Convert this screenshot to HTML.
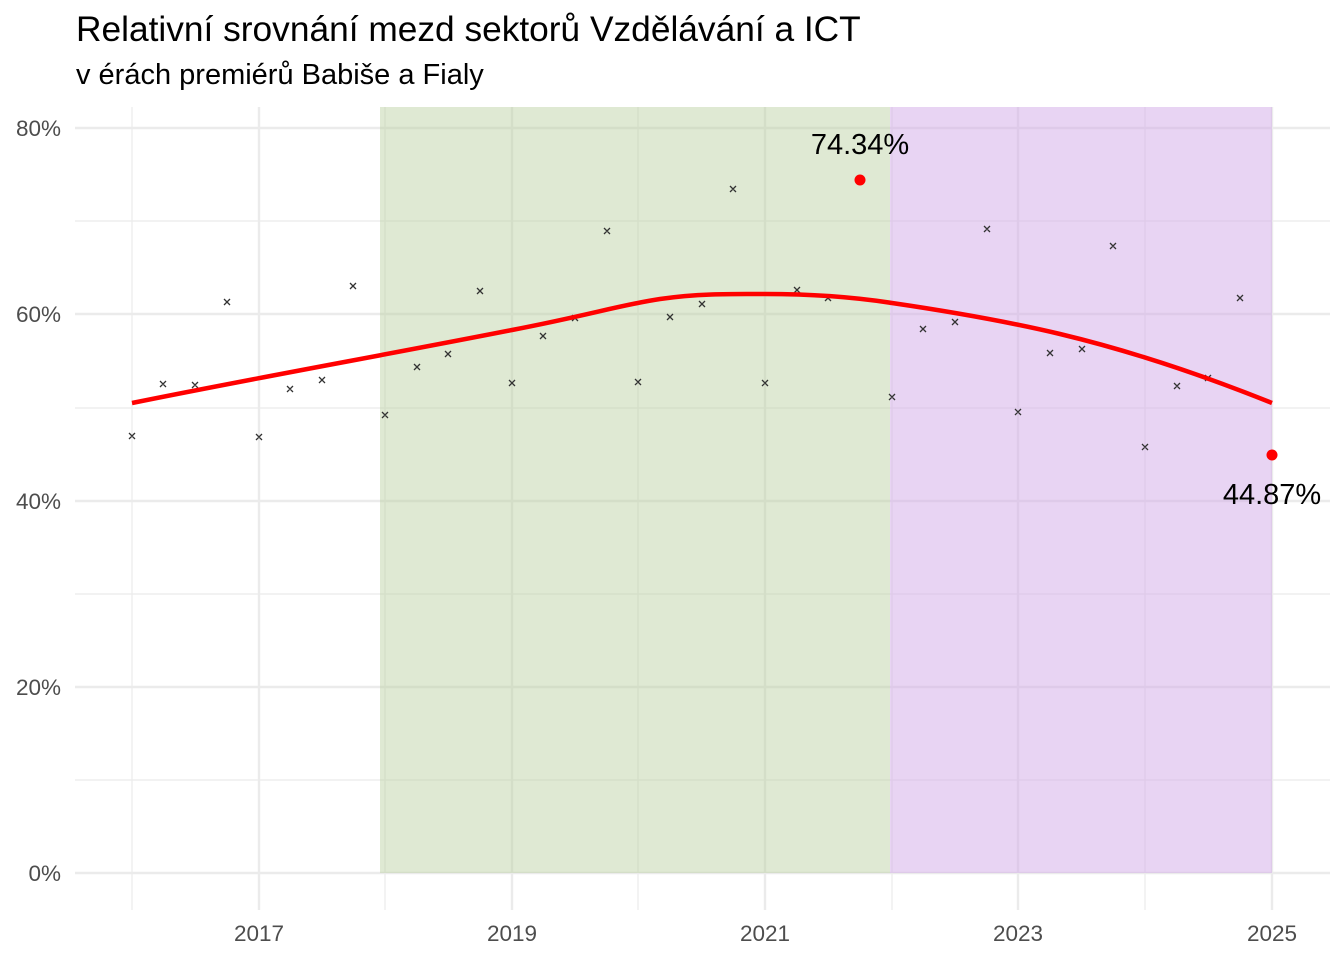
<!DOCTYPE html>
<html><head><meta charset="utf-8"><style>
body{margin:0;background:#fff}
svg{display:block;font-family:"Liberation Sans",Arial,sans-serif}
</style></head><body>
<svg width="1344" height="960" viewBox="0 0 1344 960" xmlns="http://www.w3.org/2000/svg">
<rect width="1344" height="960" fill="#fff"/>
<text x="76" y="41" font-size="35.3" fill="#000">Relativní srovnání mezd sektorů Vzdělávání a ICT</text>
<text x="76" y="84" font-size="29" fill="#000">v érách premiérů Babiše a Fialy</text>
<g stroke="#ebebeb" stroke-width="1.2">
<line x1="75" x2="1330" y1="780" y2="780"/><line x1="75" x2="1330" y1="594" y2="594"/>
<line x1="75" x2="1330" y1="408" y2="408"/><line x1="75" x2="1330" y1="221" y2="221"/>
<line x1="132" x2="132" y1="107" y2="910"/><line x1="385" x2="385" y1="107" y2="910"/>
<line x1="638" x2="638" y1="107" y2="910"/><line x1="892" x2="892" y1="107" y2="910"/>
<line x1="1145" x2="1145" y1="107" y2="910"/>
</g>
<g stroke="#ebebeb" stroke-width="2.4">
<line x1="75" x2="1330" y1="873" y2="873"/><line x1="75" x2="1330" y1="687" y2="687"/>
<line x1="75" x2="1330" y1="501" y2="501"/><line x1="75" x2="1330" y1="314" y2="314"/>
<line x1="75" x2="1330" y1="128" y2="128"/>
<line x1="259" x2="259" y1="107" y2="910"/><line x1="512" x2="512" y1="107" y2="910"/>
<line x1="765" x2="765" y1="107" y2="910"/><line x1="1018" x2="1018" y1="107" y2="910"/>
<line x1="1272" x2="1272" y1="107" y2="910"/>
</g>
<rect x="380" y="107" width="510" height="766" fill="#b9cf9e" opacity="0.45"/>
<rect x="890" y="107" width="382" height="766" fill="#d2a9e8" opacity="0.5"/>
<g font-size="22.5" fill="#4d4d4d" text-anchor="end">
<text x="61" y="881">0%</text><text x="61" y="695">20%</text><text x="61" y="509">40%</text>
<text x="61" y="322">60%</text><text x="61" y="136">80%</text>
</g>
<g font-size="22.5" fill="#4d4d4d" text-anchor="middle">
<text x="259" y="941">2017</text><text x="512" y="941">2019</text><text x="765" y="941">2021</text>
<text x="1018" y="941">2023</text><text x="1272" y="941">2025</text>
</g>
<g stroke="#333" stroke-width="1.3">
<path d="M129 433l6 6m0-6l-6 6 M160 381l6 6m0-6l-6 6 M192 382l6 6m0-6l-6 6 M224 299l6 6m0-6l-6 6 M256 434l6 6m0-6l-6 6 M287 386l6 6m0-6l-6 6 M319 377l6 6m0-6l-6 6 M350 283l6 6m0-6l-6 6 M382 412l6 6m0-6l-6 6 M414 364l6 6m0-6l-6 6 M445 351l6 6m0-6l-6 6 M477 288l6 6m0-6l-6 6 M509 380l6 6m0-6l-6 6 M540 333l6 6m0-6l-6 6 M572 315l6 6m0-6l-6 6 M604 228l6 6m0-6l-6 6 M635 379l6 6m0-6l-6 6 M667 314l6 6m0-6l-6 6 M699 301l6 6m0-6l-6 6 M730 186l6 6m0-6l-6 6 M762 380l6 6m0-6l-6 6 M794 287l6 6m0-6l-6 6 M825 295l6 6m0-6l-6 6 M889 394l6 6m0-6l-6 6 M920 326l6 6m0-6l-6 6 M952 319l6 6m0-6l-6 6 M984 226l6 6m0-6l-6 6 M1015 409l6 6m0-6l-6 6 M1047 350l6 6m0-6l-6 6 M1079 346l6 6m0-6l-6 6 M1110 243l6 6m0-6l-6 6 M1142 444l6 6m0-6l-6 6 M1174 383l6 6m0-6l-6 6 M1205 375l6 6m0-6l-6 6 M1237 295l6 6m0-6l-6 6"/>
</g>
<path d="M132 403 C260 377 385 355 512 330 C590 315 620 305 660 299 C700 293 740 294 765 294 C820 294 860 298 892 303 C960 313 1018 324 1060 334 C1110 346 1180 366 1272 403" fill="none" stroke="#ff0000" stroke-width="4.5"/>
<circle cx="860" cy="180" r="5.5" fill="#ff0000"/>
<circle cx="1272" cy="455" r="5.5" fill="#ff0000"/>
<text x="860" y="154" font-size="29" text-anchor="middle" fill="#000">74.34%</text>
<text x="1272" y="504" font-size="29" text-anchor="middle" fill="#000">44.87%</text>
</svg>
</body></html>
